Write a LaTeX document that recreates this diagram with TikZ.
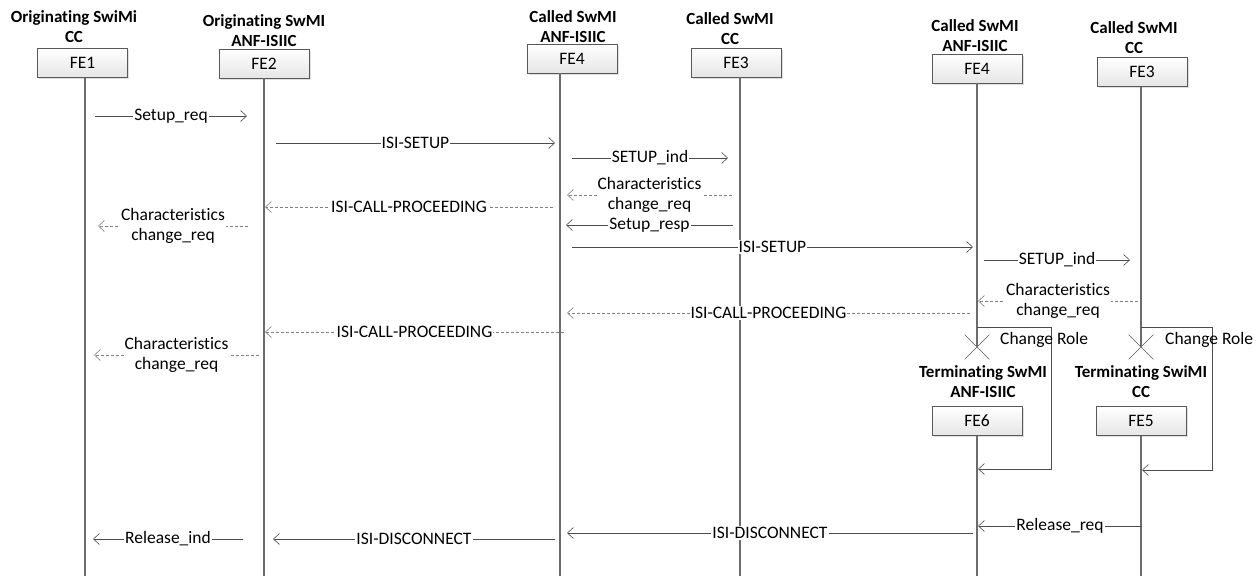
\documentclass[tikz,border=0pt]{standalone}
\usepackage{fontspec}
\setmainfont{Carlito}[Ligatures=NoCommon]
\usetikzlibrary{arrows.meta,calc,shadows,shapes.misc}
\begin{document}
\begin{tikzpicture}[x=1pt,y=-1pt,
  every node/.style={font=\fontsize{17.5}{20}\selectfont, inner sep=1pt},
  febox/.style={draw=gray!70!black, line width=0.6pt, top color=white, bottom color=gray!20,
    minimum width=90pt, minimum height=29pt,
    drop shadow={shadow xshift=1.5pt,shadow yshift=-1.5pt,opacity=0.25}},
  hdr/.style={font=\fontsize{17}{20}\selectfont\bfseries, align=center},
  life/.style={draw=gray!85!black, line width=1.1pt},
  msg/.style={draw=black!70, line width=0.6pt, -{Straight Barb[length=6pt,width=11pt]}},
  rmsg/.style={msg, draw=gray, dash pattern=on 3pt off 2pt},
  lbl/.style={fill=white, align=center},
  xmark/.style={draw=gray!70!black, line width=0.6pt, cross out, minimum size=24pt, inner sep=0pt},
]
\useasboundingbox (0,0) rectangle (1260,576);

% headers
\node[hdr] (h1) at (74,27) {Originating SwiMi\\CC};
\node[hdr] (h2) at (264,31) {Originating SwMI\\ANF-ISIIC};
\node[hdr] (h3) at (573,27) {Called SwMI\\ANF-ISIIC};
\node[hdr] (h4) at (730,29) {Called SwMI\\CC};
\node[hdr] (h5) at (975,36) {Called SwMI\\ANF-ISIIC};
\node[hdr] (h6) at (1134,38) {Called SwMI\\CC};

% boxes
\node[febox] (fe1) at (82.5,63) {FE1};
\node[febox] (fe2) at (264,63.5) {FE2};
\node[febox] (fe4) at (572,58.5) {FE4};
\node[febox] (fe3) at (736,62.5) {FE3};
\node[febox] (fe4b) at (977,68.5) {FE4};
\node[febox] (fe3b) at (1142,72) {FE3};

% lifeline x positions
\coordinate (L1) at (85,0);
\coordinate (L2) at (264,0);
\coordinate (L3) at (560,0);
\coordinate (L4) at (740,0);
\coordinate (L5) at (977,0);
\coordinate (L6) at (1141,0);
\coordinate (bot) at (0,576);

% change role crosses
\node[xmark] (x1) at (977,347) {};
\node[xmark] (x2) at (1141,347) {};

% terminating labels and boxes
\node[hdr] (t1) at (983,382) {Terminating SwMI\\ANF-ISIIC};
\node[hdr] (t2) at (1141,382) {Terminating SwiMI\\CC};
\node[febox] (fe6) at (977,421) {FE6};
\node[febox] (fe5) at (1141,421) {FE5};

% lifelines
\draw[life] (L1 |- fe1.south) -- (L1 |- bot);
\draw[life] (L2 |- fe2.south) -- (L2 |- bot);
\draw[life] (L3 |- fe4.south) -- (L3 |- bot);
\draw[life] (L4 |- fe3.south) -- (L4 |- bot);
\draw[life] (L5 |- fe4b.south) -- (x1.center);
\draw[life] (L6 |- fe3b.south) -- (x2.center);
\draw[life] (fe6.south) -- (fe6 |- bot);
\draw[life] (fe5.south) -- (fe5 |- bot);

% messages
\draw[msg] ($(L1|-0,116)+(10,0)$) -- node[lbl]{Setup\_req} ($(L2|-0,116)+(-17,0)$);
\draw[msg] ($(L2|-0,143)+(12,0)$) -- node[lbl]{ISI-SETUP} ($(L3|-0,143)+(-5,0)$);
\draw[msg] ($(L3|-0,158)+(12,0)$) -- node[lbl]{SETUP\_ind} ($(L4|-0,158)+(-12,0)$);
\draw[rmsg] ($(L4|-0,195)+(-8,0)$) -- node[lbl]{Characteristics\\change\_req} ($(L3|-0,195)+(7,0)$);
\draw[rmsg] ($(L3|-0,207)+(-7,0)$) -- node[lbl]{ISI-CALL-PROCEEDING} ($(L2|-0,207)+(1,0)$);
\draw[rmsg] ($(L2|-0,226)+(-16,0)$) -- node[lbl]{Characteristics\\change\_req} ($(L1|-0,226)+(13,0)$);
\draw[msg] ($(L4|-0,225)+(-7,0)$) -- node[lbl]{Setup\_resp} ($(L3|-0,225)+(6,0)$);
\draw[msg] ($(L3|-0,247)+(12,0)$) -- node[lbl]{ISI-SETUP} ($(L5|-0,247)+(-4,0)$);
\draw[msg] ($(L5|-0,260)+(7,0)$) -- node[lbl]{SETUP\_ind} ($(L6|-0,260)+(-11,0)$);
\draw[rmsg] ($(L6|-0,301)+(-3,0)$) -- node[lbl]{Characteristics\\change\_req} ($(L5|-0,301)+(1,0)$);
\draw[rmsg] ($(L5|-0,313)+(-7,0)$) -- node[lbl]{ISI-CALL-PROCEEDING} ($(L3|-0,313)+(7,0)$);
\draw[rmsg] ($(L3|-0,332)+(4,0)$) -- node[lbl]{ISI-CALL-PROCEEDING} ($(L2|-0,332)+(1,0)$);
\draw[rmsg] ($(L2|-0,355)+(-5,0)$) -- node[lbl]{Characteristics\\change\_req} ($(L1|-0,355)+(9,0)$);

% change role loops
\draw[msg] (L5|-0,327) -- (1051,327) -- (1051,469) -- ($(L5|-0,469)+(1,0)$);
\draw[msg] (L6|-0,327) -- (1212,327) -- (1212,470) -- ($(L6|-0,470)+(1,0)$);
\node[anchor=west] (cr1) at (999,340) {Change Role};
\node[anchor=west] (cr2) at (1164,340) {Change Role};

% release
\draw[msg] ($(L6|-0,526)+(1,0)$) -- node[lbl]{Release\_req} ($(L5|-0,526)+(1,0)$);
\draw[msg] ($(L5|-0,533)+(-4,0)$) -- node[lbl]{ISI-DISCONNECT} ($(L3|-0,533)+(7,0)$);
\draw[msg] ($(L3|-0,539)+(-5,0)$) -- node[lbl]{ISI-DISCONNECT} ($(L2|-0,539)+(9,0)$);
\draw[msg] ($(L2|-0,539)+(-21,0)$) -- node[lbl]{Release\_ind} ($(L1|-0,539)+(8,0)$);
\end{tikzpicture}
\end{document}
